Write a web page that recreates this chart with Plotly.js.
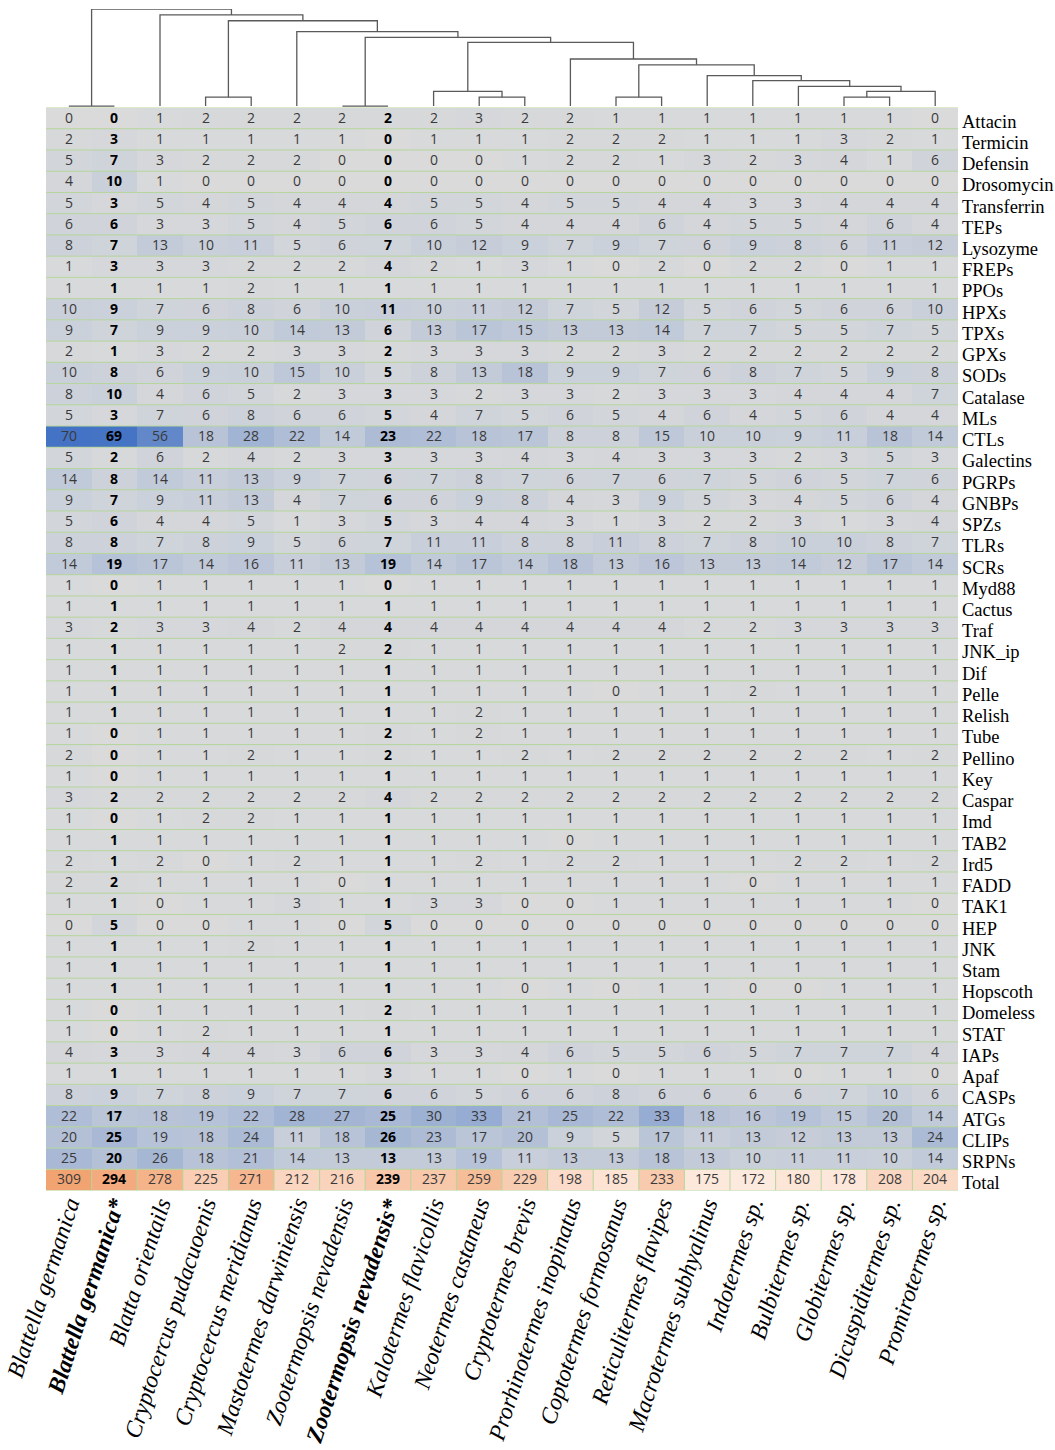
<!DOCTYPE html>
<html><head><meta charset="utf-8">
<script src="https://cdn.plot.ly/plotly-3.0.1.min.js"></script>
<style>html,body{margin:0;padding:0;background:#fff}</style>
</head><body><div id="chart" style="width:1055px;height:1450px"></div>
<script>
const species = ['Blattella germanica','Blattella germanica*','Blatta orientails','Cryptocercus pudacuoenis','Cryptocercus meridianus','Mastotermes darwiniensis','Zootermopsis nevadensis','Zootermopsis nevadensis*','Kalotermes flavicollis','Neotermes castaneus','Cryptotermes brevis','Prorhinotermes inopinatus','Coptotermes formosanus','Reticulitermes flavipes','Macrotermes subhyalinus','Indotermes sp.','Bulbitermes sp.','Globitermes sp.','Dicuspiditermes sp.','Promirotermes sp.'];
const boldSpecies = [1, 7];
const genes = ['Attacin','Termicin','Defensin','Drosomycin','Transferrin','TEPs','Lysozyme','FREPs','PPOs','HPXs','TPXs','GPXs','SODs','Catalase','MLs','CTLs','Galectins','PGRPs','GNBPs','SPZs','TLRs','SCRs','Myd88','Cactus','Traf','JNK_ip','Dif','Pelle','Relish','Tube','Pellino','Key','Caspar','Imd','TAB2','Ird5','FADD','TAK1','HEP','JNK','Stam','Hopscoth','Domeless','STAT','IAPs','Apaf','CASPs','ATGs','CLIPs','SRPNs'];
const totalLabel = 'Total';

const Attacin     = [0,0,1,2,2,2,2,2,2,3, 2,2,1,1,1,1,1,1,1,0];
const Termicin    = [2,3,1,1,1,1,1,0,1,1, 1,2,2,2,1,1,1,3,2,1];
const Defensin    = [5,7,3,2,2,2,0,0,0,0, 1,2,2,1,3,2,3,4,1,6];
const Drosomycin  = [4,10,1,0,0,0,0,0,0,0, 0,0,0,0,0,0,0,0,0,0];
const Transferrin = [5,3,5,4,5,4,4,4,5,5, 4,5,5,4,4,3,3,4,4,4];
const TEPs        = [6,6,3,3,5,4,5,6,6,5, 4,4,4,6,4,5,5,4,6,4];
const Lysozyme    = [8,7,13,10,11,5,6,7,10,12, 9,7,9,7,6,9,8,6,11,12];
const FREPs       = [1,3,3,3,2,2,2,4,2,1, 3,1,0,2,0,2,2,0,1,1];
const PPOs        = [1,1,1,1,2,1,1,1,1,1, 1,1,1,1,1,1,1,1,1,1];
const HPXs        = [10,9,7,6,8,6,10,11,10,11, 12,7,5,12,5,6,5,6,6,10];
const TPXs        = [9,7,9,9,10,14,13,6,13,17, 15,13,13,14,7,7,5,5,7,5];
const GPXs        = [2,1,3,2,2,3,3,2,3,3, 3,2,2,3,2,2,2,2,2,2];
const SODs        = [10,8,6,9,10,15,10,5,8,13, 18,9,9,7,6,8,7,5,9,8];
const Catalase    = [8,10,4,6,5,2,3,3,3,2, 3,3,2,3,3,3,4,4,4,7];
const MLs         = [5,3,7,6,8,6,6,5,4,7, 5,6,5,4,6,4,5,6,4,4];
const CTLs        = [70,69,56,18,28,22,14,23,22,18, 17,8,8,15,10,10,9,11,18,14];
const Galectins   = [5,2,6,2,4,2,3,3,3,3, 4,3,4,3,3,3,2,3,5,3];
const PGRPs       = [14,8,14,11,13,9,7,6,7,8, 7,6,7,6,7,5,6,5,7,6];
const GNBPs       = [9,7,9,11,13,4,7,6,6,9, 8,4,3,9,5,3,4,5,6,4];
const SPZs        = [5,6,4,4,5,1,3,5,3,4, 4,3,1,3,2,2,3,1,3,4];
const TLRs        = [8,8,7,8,9,5,6,7,11,11, 8,8,11,8,7,8,10,10,8,7];
const SCRs        = [14,19,17,14,16,11,13,19,14,17, 14,18,13,16,13,13,14,12,17,14];
const Myd88       = [1,0,1,1,1,1,1,0,1,1, 1,1,1,1,1,1,1,1,1,1];
const Cactus      = [1,1,1,1,1,1,1,1,1,1, 1,1,1,1,1,1,1,1,1,1];
const Traf        = [3,2,3,3,4,2,4,4,4,4, 4,4,4,4,2,2,3,3,3,3];
const JNK_ip      = [1,1,1,1,1,1,2,2,1,1, 1,1,1,1,1,1,1,1,1,1];
const Dif         = [1,1,1,1,1,1,1,1,1,1, 1,1,1,1,1,1,1,1,1,1];
const Pelle       = [1,1,1,1,1,1,1,1,1,1, 1,1,0,1,1,2,1,1,1,1];
const Relish      = [1,1,1,1,1,1,1,1,1,2, 1,1,1,1,1,1,1,1,1,1];
const Tube        = [1,0,1,1,1,1,1,2,1,2, 1,1,1,1,1,1,1,1,1,1];
const Pellino     = [2,0,1,1,2,1,1,2,1,1, 2,1,2,2,2,2,2,2,1,2];
const Key         = [1,0,1,1,1,1,1,1,1,1, 1,1,1,1,1,1,1,1,1,1];
const Caspar      = [3,2,2,2,2,2,2,4,2,2, 2,2,2,2,2,2,2,2,2,2];
const Imd         = [1,0,1,2,2,1,1,1,1,1, 1,1,1,1,1,1,1,1,1,1];
const TAB2        = [1,1,1,1,1,1,1,1,1,1, 1,0,1,1,1,1,1,1,1,1];
const Ird5        = [2,1,2,0,1,2,1,1,1,2, 1,2,2,1,1,1,2,2,1,2];
const FADD        = [2,2,1,1,1,1,0,1,1,1, 1,1,1,1,1,0,1,1,1,1];
const TAK1        = [1,1,0,1,1,3,1,1,3,3, 0,0,1,1,1,1,1,1,1,0];
const HEP         = [0,5,0,0,1,1,0,5,0,0, 0,0,0,0,0,0,0,0,0,0];
const JNK         = [1,1,1,1,2,1,1,1,1,1, 1,1,1,1,1,1,1,1,1,1];
const Stam        = [1,1,1,1,1,1,1,1,1,1, 1,1,1,1,1,1,1,1,1,1];
const Hopscoth    = [1,1,1,1,1,1,1,1,1,1, 0,1,0,1,1,0,0,1,1,1];
const Domeless    = [1,0,1,1,1,1,1,2,1,1, 1,1,1,1,1,1,1,1,1,1];
const STAT        = [1,0,1,2,1,1,1,1,1,1, 1,1,1,1,1,1,1,1,1,1];
const IAPs        = [4,3,3,4,4,3,6,6,3,3, 4,6,5,5,6,5,7,7,7,4];
const Apaf        = [1,1,1,1,1,1,1,3,1,1, 0,1,0,1,1,1,0,1,1,0];
const CASPs       = [8,9,7,8,9,7,7,6,6,5, 6,6,8,6,6,6,6,7,10,6];
const ATGs        = [22,17,18,19,22,28,27,25,30,33, 21,25,22,33,18,16,19,15,20,14];
const CLIPs       = [20,25,19,18,24,11,18,26,23,17, 20,9,5,17,11,13,12,13,13,24];
const SRPNs       = [25,20,26,18,21,14,13,13,13,19, 11,13,13,18,13,10,11,11,10,14];
const Total       = [309,294,278,225,271,212,216,239,237,259, 229,198,185,233,175,172,180,178,208,204];

// dendrogram merges: [childA, childB, height]; leaves 0..19, new clusters numbered from 20
const merges = [
  [0,1,0],[6,7,0],[3,4,9],[9,10,9],[12,13,9],[17,18,9],
  [8,23,15],[25,19,15],[16,27,20],[15,28,26],[14,29,31],[24,30,42],
  [11,31,48],[26,32,65],[21,33,70],[5,34,76],[22,35,87],[2,36,93],[20,37,99]
];

const rows = [Attacin,Termicin,Defensin,Drosomycin,Transferrin,TEPs,Lysozyme,FREPs,PPOs,HPXs,TPXs,GPXs,SODs,Catalase,MLs,CTLs,Galectins,PGRPs,GNBPs,SPZs,TLRs,SCRs,Myd88,Cactus,Traf,JNK_ip,Dif,Pelle,Relish,Tube,Pellino,Key,Caspar,Imd,TAB2,Ird5,FADD,TAK1,HEP,JNK,Stam,Hopscoth,Domeless,STAT,IAPs,Apaf,CASPs,ATGs,CLIPs,SRPNs];

const W = 1055, H = 1450;
const colIdx = species.map((s,i)=>i);
const rowIdx = genes.map((g,i)=>i);
const fmt = (v,j)=> boldSpecies.includes(j) ? '<span style="color:#000"><b>'+v+'</b></span>' : String(v);
const cellText = rows.map(r=>r.map(fmt));
const totalText = [Total.map(fmt)];

// dendrogram segments
const nLeaf = species.length;
const pos = {};
colIdx.forEach(i=>{pos[i]=[i,0];});
const dX=[], dY=[];
merges.forEach((m,k)=>{
  const a=pos[m[0]], b=pos[m[1]], h=m[2];
  dX.push(a[0],a[0],b[0],b[0],null);
  dY.push(a[1],h,h,b[1],null);
  pos[nLeaf+k]=[(a[0]+b[0])/2,h];
});

const cellFont = {family:'Open Sans, Lato, sans-serif', size:14, color:'#3a3a3a'};

const traces = [
  {type:'heatmap', x:colIdx, y:rowIdx, z:rows, text:cellText, texttemplate:'%{text}', textfont:cellFont,
   colorscale:[[0,'#dadada'],[0.15,'#c9cfda'],[1,'#4472c4']], zmin:0, zmax:70, showscale:false, hoverinfo:'skip'},
  {type:'heatmap', x:colIdx, y:[genes.length], z:[Total], text:totalText, texttemplate:'%{text}', textfont:cellFont,
   colorscale:[[0,'#fdebe0'],[1,'#f2a271']], zmin:170, zmax:310, showscale:false, hoverinfo:'skip'},
  {type:'scatter', mode:'lines', x:dX, y:dY, xaxis:'x', yaxis:'y2', line:{color:'#5a5a5a', width:1.3}, hoverinfo:'skip', connectgaps:false}
];

const shapes = [];
const green = '#b5d69c';
for (let r=0; r<=genes.length+1; r++) {
  shapes.push({type:'line', xref:'x', yref:'y', x0:-0.5, x1:nLeaf-0.5, y0:r-0.5, y1:r-0.5, line:{color:green, width:1}, layer:'above'});
}
for (let c=1; c<nLeaf; c++) {
  shapes.push({type:'line', xref:'x', yref:'y', x0:c-0.5, x1:c-0.5, y0:genes.length-0.5, y1:genes.length+0.5, line:{color:green, width:1}, layer:'above'});
}

// species labels as rotated annotations under each column
const labelFont = {family:'Liberation Serif, Times New Roman, serif', size:23.5, color:'#000'};
const annotations = species.map((s,i)=>({
  xref:'x', yref:'paper', x:i, y:1-1194/H, xanchor:'right', yanchor:'top', xshift:17,
  text: boldSpecies.includes(i) ? '<b><i>'+s+'</i></b>' : '<i>'+s+'</i>',
  textangle:-72, showarrow:false, font:labelFont, borderpad:0
}));

const layout = {
  width:W, height:H, margin:{l:0,r:0,t:0,b:0,pad:0},
  paper_bgcolor:'#fff', plot_bgcolor:'#fff', showlegend:false,
  xaxis:{domain:[46/W, 958/W], range:[-0.5, nLeaf-0.5], showticklabels:false,
    showgrid:false, zeroline:false, showline:false, ticks:'', anchor:'y', automargin:false, fixedrange:true},
  yaxis:{domain:[1-1190.5/H, 1-107.5/H], range:[genes.length+0.5, -0.5], tickvals:rowIdx.concat([genes.length]),
    ticktext:genes.concat([totalLabel]), side:'right', ticklabelstandoff:3, ticklabelshift:-3,
    tickfont:{family:'Liberation Serif, Times New Roman, serif', size:18.5, color:'#000'},
    showgrid:false, zeroline:false, showline:false, ticks:'', automargin:false, fixedrange:true},
  yaxis2:{domain:[1-108/H, 1-9/H], range:[-2, 99], visible:false, anchor:'x', fixedrange:true},
  shapes:shapes, annotations:annotations
};

Plotly.newPlot('chart', traces, layout, {displayModeBar:false, staticPlot:true});
</script>
</body></html>
